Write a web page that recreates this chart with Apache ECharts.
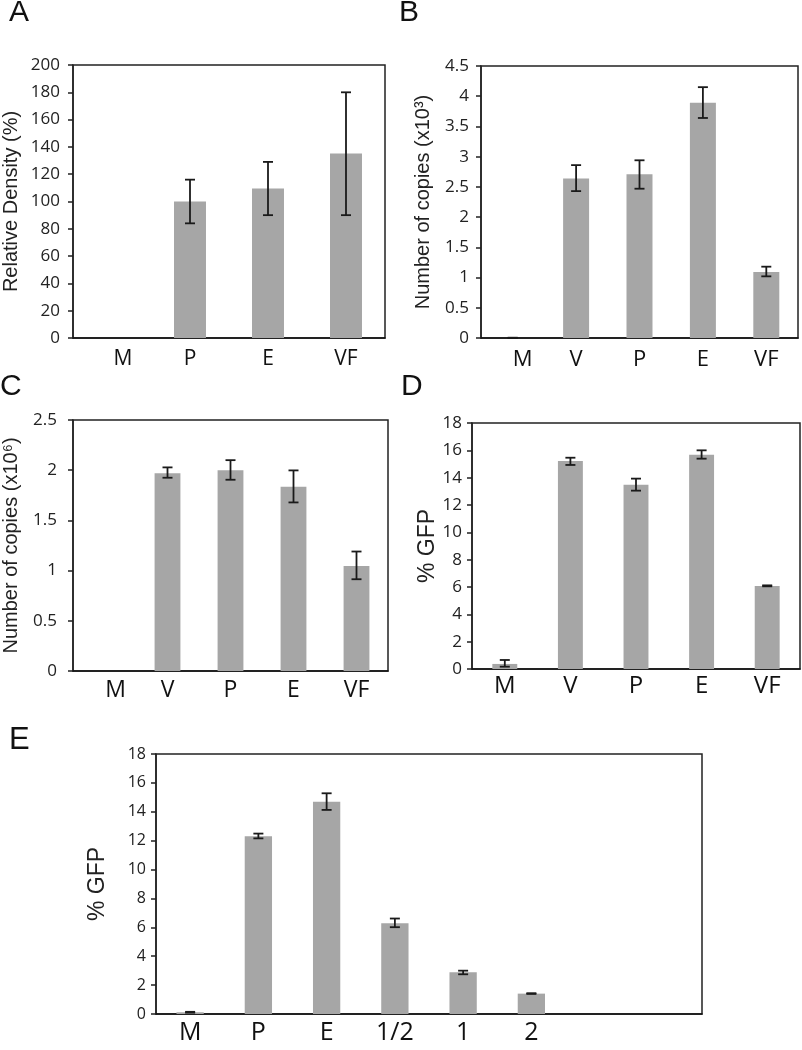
<!DOCTYPE html>
<html>
<head>
<meta charset="utf-8">
<script src="https://cdn.jsdelivr.net/npm/echarts@6/dist/echarts.min.js"></script>
<style>html,body{margin:0;padding:0;background:#fff}#c{width:802px;height:1050px}</style>
</head>
<body>
<div id="c"></div>
<script>
// ---- Data ----
const catsA = ['M', 'P', 'E', 'VF'];
const valsA = [0, 100, 109.5, 135.2];
const loA = [null, 84, 90, 90];
const hiA = [null, 116, 129, 180];
const ticksA = { min: 0, max: 200, interval: 20 };

const catsB = ['M', 'V', 'P', 'E', 'VF'];
const valsB = [0, 2.64, 2.71, 3.89, 1.09];
const loB = [0, 2.43, 2.47, 3.64, 1.02];
const hiB = [0.005, 2.86, 2.94, 4.15, 1.18];
const ticksB = { min: 0, max: 4.5, interval: 0.5 };

const catsC = ['M', 'V', 'P', 'E', 'VF'];
const valsC = [0, 1.97, 2.0, 1.835, 1.047];
const loC = [null, 1.925, 1.905, 1.679, 0.914];
const hiC = [null, 2.028, 2.10, 1.998, 1.19];
const ticksC = { min: 0, max: 2.5, interval: 0.5 };

const catsD = ['M', 'V', 'P', 'E', 'VF'];
const valsD = [0.37, 15.22, 13.49, 15.68, 6.07];
const loD = [0.17, 14.93, 13.05, 15.39, 6.05];
const hiD = [0.66, 15.46, 13.93, 16.0, 6.12];
const ticksD = { min: 0, max: 18, interval: 2 };

const catsE = ['M', 'P', 'E', '1/2', '1', '2', '', ''];
const valsE = [0.12, 12.3, 14.7, 6.29, 2.89, 1.41, null, null];
const loE = [0.09, 12.16, 14.13, 6.01, 2.75, 1.39, null, null];
const hiE = [0.15, 12.49, 15.28, 6.61, 3.0, 1.44, null, null];
const ticksE = { min: 0, max: 18, interval: 2 };

const titlesY = ['Relative Density (%)', 'Number of copies (x10\u00B3)', 'Number of copies (x10\u2076)', '% GFP', '% GFP'];
const panelLetters = ['A', 'B', 'C', 'D', 'E'];

// ---- Layout / style ----
const FONT = 'Open Sans';
const panels = [
  { cats: catsA, vals: valsA, lo: loA, hi: hiA, ticks: ticksA, grid: { left: 72, top: 65, width: 313, height: 273 }, nameGap: 52, nameSize: 20, labMargin: 13, catMargin: 11, catSize: 21, tickSize: 17, barW: '41%', mShift: 22 },
  { cats: catsB, vals: valsB, lo: loB, hi: hiB, ticks: ticksB, grid: { left: 481, top: 66, width: 317, height: 272 }, nameGap: 48, nameSize: 20, labMargin: 12, catMargin: 11, catSize: 22, tickSize: 17, barW: '41%', mShift: 20 },
  { cats: catsC, vals: valsC, lo: loC, hi: hiC, ticks: ticksC, grid: { left: 70, top: 420, width: 318, height: 251 }, nameGap: 52, nameSize: 20, labMargin: 16, catMargin: 8, catSize: 23, tickSize: 17, barW: '41%', mShift: 22 },
  { cats: catsD, vals: valsD, lo: loD, hi: hiD, ticks: ticksD, grid: { left: 472, top: 423, width: 328, height: 246 }, nameGap: 29, nameSize: 23, labMargin: 10, catMargin: 5, catSize: 24, tickSize: 17, barW: '38%', mShift: 0 },
  { cats: catsE, vals: valsE, lo: loE, hi: hiE, ticks: ticksE, grid: { left: 156, top: 754, width: 546, height: 260 }, nameGap: 47, nameSize: 23, labMargin: 10, catMargin: 6, catSize: 25, tickSize: 16, barW: '40%', mShift: 0 }
];
const letterPos = [
  { left: 9, top: -2 }, { left: 399, top: -2 }, { left: 0, top: 372 }, { left: 401, top: 372 }, { left: 9, top: 725 }
];

const grid = [], xAxis = [], yAxis = [], series = [], graphic = [];
panels.forEach((p, i) => {
  grid.push(Object.assign({ show: true, borderColor: '#222', borderWidth: 1.5, backgroundColor: 'transparent' }, p.grid));
  xAxis.push({
    type: 'category', gridIndex: i, data: p.cats,
    axisLine: { show: true, lineStyle: { color: '#111', width: 1.5 } },
    axisTick: { show: false },
    axisLabel: {
      margin: p.catMargin, color: '#111', fontFamily: FONT, fontSize: p.catSize, interval: 0,
      formatter: v => (v === 'M' && p.mShift) ? '{m|M}' : v,
      rich: { m: { padding: [0, 0, 0, p.mShift], fontFamily: FONT, fontSize: p.catSize, color: '#111' } }
    },
    splitLine: { show: false }
  });
  yAxis.push({
    type: 'value', gridIndex: i, min: p.ticks.min, max: p.ticks.max, interval: p.ticks.interval,
    name: titlesY[i], nameLocation: 'middle', nameGap: p.nameGap, nameRotate: 90,
    nameTextStyle: { fontFamily: 'Liberation Sans', fontSize: p.nameSize, color: '#222' },
    axisLine: { show: true, lineStyle: { color: '#222', width: 1.5 } },
    axisTick: { show: true, inside: false, length: 5, lineStyle: { color: '#222', width: 1.5 } },
    axisLabel: { margin: p.labMargin, color: '#222', fontFamily: FONT, fontSize: p.tickSize },
    splitLine: { show: false }
  });
  series.push({
    type: 'bar', xAxisIndex: i, yAxisIndex: i, data: p.vals, barWidth: p.barW,
    itemStyle: { color: '#a6a6a6', borderWidth: 0 },
    silent: true
  });
  const errData = [];
  p.lo.forEach((l, k) => { if (l !== null && p.hi[k] !== null) errData.push([k, l, p.hi[k]]); });
  series.push({
    type: 'custom', xAxisIndex: i, yAxisIndex: i, data: errData, z: 10, silent: true,
    encode: { x: 0, y: [1, 2] },
    renderItem: (params, api) => {
      const x = api.value(0);
      const a = api.coord([x, api.value(1)]);
      const b = api.coord([x, api.value(2)]);
      const hw = 5;
      const st = { stroke: '#1a1a1a', lineWidth: 1.8 };
      return {
        type: 'group', children: [
          { type: 'line', shape: { x1: a[0], y1: a[1], x2: b[0], y2: b[1] }, style: st },
          { type: 'line', shape: { x1: a[0] - hw, y1: a[1], x2: a[0] + hw, y2: a[1] }, style: st },
          { type: 'line', shape: { x1: b[0] - hw, y1: b[1], x2: b[0] + hw, y2: b[1] }, style: st }
        ]
      };
    }
  });
  graphic.push({
    type: 'text', left: letterPos[i].left, top: letterPos[i].top,
    style: { text: panelLetters[i], font: (i === 4 ? '31px' : '30px') + ' "Liberation Sans"', fill: '#111' }
  });
});

const chart = echarts.init(document.getElementById('c'), null, { renderer: 'canvas' });
chart.setOption({ animation: false, backgroundColor: '#fff', grid, xAxis, yAxis, series, graphic });
</script>
</body>
</html>
